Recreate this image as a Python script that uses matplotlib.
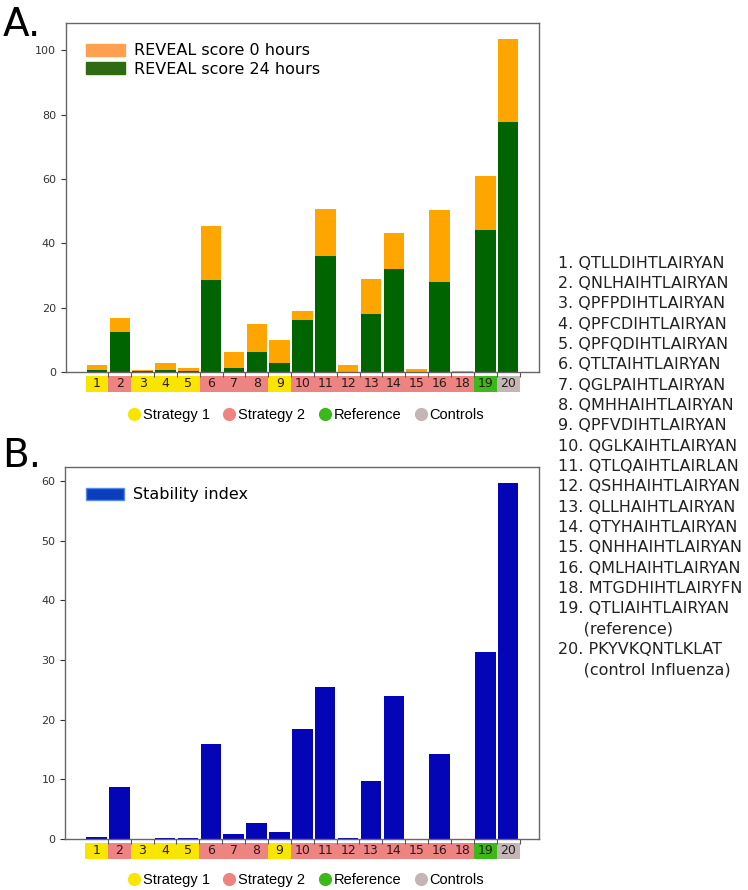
import numpy as np
import matplotlib
matplotlib.use('Agg')
import matplotlib.pyplot as plt
from matplotlib.patches import Patch, Rectangle
from matplotlib.lines import Line2D

# peptide numbers and their groups
labels = ['1', '2', '3', '4', '5', '6', '7', '8', '9', '10', '11', '12', '13', '14', '15', '16', '18', '19', '20']
groups = ['s1', 's2', 's1', 's1', 's1', 's2', 's2', 's2', 's1', 's2', 's2', 's2', 's2', 's2', 's2', 's2', 's2', 'ref', 'ctrl']

# REVEAL scores
reveal_0h = [2.1, 16.7, 0.7, 2.7, 1.1, 45.5, 6.1, 15.0, 9.9, 19.1, 50.8, 2.1, 28.9, 43.1, 1.0, 50.4, 0.2, 61.0, 103.5]
reveal_24h = [0.5, 12.3, 0.4, 0.5, 0.2, 28.6, 1.3, 6.2, 2.7, 16.1, 36.2, 0.0, 17.9, 31.9, 0.0, 28.1, 0.0, 44.1, 77.7]

# stability index
stability = [0.33, 8.8, 0.05, 0.2, 0.1, 15.9, 0.8, 2.7, 1.2, 18.4, 25.4, 0.17, 9.8, 23.9, 0.05, 14.2, 0.05, 31.3, 59.6]

sequences = ['1. QTLLDIHTLAIRYAN', '2. QNLHAIHTLAIRYAN', '3. QPFPDIHTLAIRYAN', '4. QPFCDIHTLAIRYAN',
             '5. QPFQDIHTLAIRYAN', '6. QTLTAIHTLAIRYAN', '7. QGLPAIHTLAIRYAN', '8. QMHHAIHTLAIRYAN',
             '9. QPFVDIHTLAIRYAN', '10. QGLKAIHTLAIRYAN', '11. QTLQAIHTLAIRLAN', '12. QSHHAIHTLAIRYAN',
             '13. QLLHAIHTLAIRYAN', '14. QTYHAIHTLAIRYAN', '15. QNHHAIHTLAIRYAN', '16. QMLHAIHTLAIRYAN',
             '18. MTGDHIHTLAIRYFN', '19. QTLIAIHTLAIRYAN', '     (reference)', '20. PKYVKQNTLKLAT',
             '     (control Influenza)']

group_colors = {'s1': '#F8E600', 's2': '#EE8482', 'ref': '#3DB81A', 'ctrl': '#C2B6B6'}
group_names = [('s1', 'Strategy 1'), ('s2', 'Strategy 2'), ('ref', 'Reference'), ('ctrl', 'Controls')]

x = np.arange(len(labels))

fig = plt.figure(figsize=(7.48, 8.9), dpi=100)
ax1 = fig.add_axes([0.0878, 0.582, 0.633, 0.3925])
ax2 = fig.add_axes([0.0870, 0.0573, 0.634, 0.4183])


def style_axes(ax, h_px):
    ax.set_xlim(-1.37, len(labels) - 1 + 1.36)
    ax.set_xticks(x + 0.5)
    ax.set_xticklabels([])
    ax.tick_params(axis='y', labelsize=8, colors='#333333', length=3.5)
    ax.tick_params(axis='x', length=3.5, colors='#555555')
    for s in ax.spines.values():
        s.set_color('#666666')
        s.set_linewidth(1.0)
    # coloured number boxes under the axis
    tr = ax.get_xaxis_transform()
    y0 = -20 / h_px
    hh = 16.5 / h_px
    for i, (lab, g) in enumerate(zip(labels, groups)):
        ax.add_patch(Rectangle((i - 0.5, y0), 1.0, hh, transform=tr, facecolor=group_colors[g],
                               edgecolor='none', clip_on=False))
        ax.text(i, y0 + hh / 2, lab, transform=tr, ha='center', va='center', fontsize=9,
                color='#2a1a1a', clip_on=False)


# A. REVEAL scores
ax1.bar(x, reveal_0h, width=0.9, color='#FFA500')
ax1.bar(x, reveal_24h, width=0.9, color='#006400')
ax1.set_ylim(0, 108.6)
ax1.set_yticks([0, 20, 40, 60, 80, 100])
style_axes(ax1, 349.3)
ax1.legend(handles=[Patch(color='#FFA050', label='REVEAL score 0 hours'),
                    Patch(color='#2E6B12', label='REVEAL score 24 hours')],
           loc='upper left', frameon=False, fontsize=11.5, handlelength=2.4, handleheight=0.8,
           handletextpad=0.55, labelspacing=0.2, borderaxespad=0.9)

# B. stability index
ax2.bar(x, stability, width=0.9, color='#0505B8')
ax2.set_ylim(0, 62.4)
ax2.set_yticks([0, 10, 20, 30, 40, 50, 60])
style_axes(ax2, 372.3)
ax2.legend(handles=[Patch(facecolor='#0A3EBE', edgecolor='#5A8AE8', label='Stability index')],
           loc='upper left', frameon=False, fontsize=11.5, handlelength=2.4, handleheight=0.8,
           handletextpad=0.55, borderaxespad=0.9)

# group legends under each panel
handles = [Line2D([], [], marker='o', linestyle='none', markersize=9.5, markerfacecolor=group_colors[k],
                  markeredgecolor='none', label=n) for k, n in group_names]
for ypos in [1 - 415 / 890, 1 - 880 / 890]:
    fig.legend(handles=handles, loc='center', bbox_to_anchor=(0.409, ypos), ncol=4, frameon=False,
               prop={'family': 'Liberation Sans', 'size': 10.5}, handlelength=0.9, handletextpad=0.15,
               columnspacing=0.9, borderpad=0)

# panel letters
fig.text(0.003, 1 - 36 / 890, 'A.', fontsize=28, va='baseline')
fig.text(0.003, 1 - 467 / 890, 'B.', fontsize=28, va='baseline')

# sequence list on the right
for i, s in enumerate(sequences):
    fig.text(558 / 748, 1 - (263 + i * 20.35) / 890, s, fontsize=11.5, va='center', color='#222222')

fig.savefig('out.png', dpi=100)
